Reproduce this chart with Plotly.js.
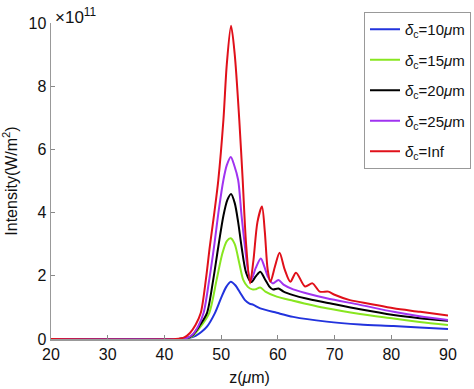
<!DOCTYPE html>
<html><head><meta charset="utf-8">
<script src="https://cdn.plot.ly/plotly-3.0.1.min.js"></script>
<style>html,body{margin:0;padding:0;background:#fff;}</style>
</head><body>
<div id="chart" style="width:474px;height:389px;"></div>
<script>
// Values in units of 1e11 W/m^2
const seriesNames = ["<i>δ</i><sub>c</sub>=10<i>μ</i>m","<i>δ</i><sub>c</sub>=15<i>μ</i>m","<i>δ</i><sub>c</sub>=20<i>μ</i>m","<i>δ</i><sub>c</sub>=25<i>μ</i>m","<i>δ</i><sub>c</sub>=Inf"];

const zBlue = [20,42,44,45.5,46.5,47.5,48.9,50,50.9,51.7,52.5,53.4,54.2,55,55.7,56.9,59.8,62.7,68.6,74.5,80.4,85,90];
const vBlue = [0,0,0.02,0.1,0.22,0.39,0.82,1.3,1.65,1.81,1.7,1.45,1.23,1.12,1.08,0.97,0.83,0.7,0.55,0.46,0.41,0.36,0.32];

const zGreen = [20,42,44,45,46.5,47.9,49.2,50.2,51,51.7,52.4,53.2,53.9,54.7,55.5,56,56.9,57.8,59.8,62.7,68.6,74.5,80.4,85,90];
const vGreen = [0,0,0.02,0.1,0.42,0.82,1.87,2.7,3.1,3.19,3.0,2.4,1.87,1.65,1.57,1.57,1.63,1.5,1.34,1.21,0.97,0.79,0.65,0.54,0.44];

const zBlack = [20,42,44,45,46.3,47.5,48.6,49.5,50.4,51.1,51.75,52.4,53,53.6,54.4,55.3,56.1,56.9,57.7,58.5,59.1,60.1,61,62.7,65,68.6,74.5,80.4,85,90];
const vBlack = [0,0,0.03,0.13,0.45,0.82,1.87,2.92,3.9,4.4,4.59,4.3,3.7,2.92,2.1,1.8,1.98,2.13,1.9,1.66,1.57,1.6,1.5,1.39,1.28,1.15,0.94,0.76,0.66,0.58];

const zPurple = [20,42,44,45,46,46.9,47.9,48.75,49.6,50.4,51,51.7,52.3,53,53.6,54.2,54.8,55.3,56.1,57,57.6,58.3,59.1,60.1,61,62.7,65,68.6,74.5,80.4,85,90];
const vPurple = [0,0,0.03,0.15,0.42,0.82,1.87,2.92,4.1,5.03,5.5,5.76,5.5,5.03,3.9,2.92,2.1,1.87,2.25,2.55,2.3,1.95,1.76,1.87,1.72,1.57,1.45,1.29,1.08,0.86,0.72,0.6];

const zRed = [20,42,43.5,44.5,45.5,46.4,47.3,48,48.8,49.5,50.4,51,51.75,52.4,53.2,53.8,54.4,55.1,55.7,56.4,57.2,57.7,58.2,58.7,59.5,60.3,61.2,62.2,63.2,64.8,66.1,67.4,68.9,70,72.7,76.3,80.4,85.1,90];
const vRed = [0,0,0.05,0.19,0.45,0.82,1.87,2.92,4.0,5.03,6.93,8.7,9.91,9.0,6.93,5.03,3.0,1.76,2.5,3.7,4.19,3.4,2.2,1.81,2.3,2.73,2.2,1.81,2.1,1.66,1.76,1.5,1.5,1.4,1.23,1.11,0.97,0.86,0.74];

const colors = ["#2233dd","#88e620","#000000","#a033f0","#e0101a"];
const zs = [zBlue,zGreen,zBlack,zPurple,zRed];
const vs = [vBlue,vGreen,vBlack,vPurple,vRed];

const traces = zs.map((z,i)=>({
  x:z, y:vs[i], type:'scatter', mode:'lines', name:seriesNames[i],
  legendgroup:'g'+i,
  line:{color:colors[i], width:2, shape:'spline', smoothing:0.8}
}));

const fam = 'Liberation Sans, Arial, sans-serif';
const axisFont = {family:fam, size:16, color:'#111'};
const layout = {
  width:474, height:389,
  margin:{l:51, r:26, t:23, b:50, autoexpand:false},
  paper_bgcolor:'#fff', plot_bgcolor:'#fff',
  font:axisFont,
  showlegend:true,
  legend:{
    x:(364-51)/397, y:(339-12)/316, xref:'paper', yref:'paper',
    xanchor:'left', yanchor:'top',
    bgcolor:'#fff', bordercolor:'#999', borderwidth:1,
    font:{family:fam, size:15, color:'#111'},
    tracegroupgap:8, itemwidth:30
  },
  xaxis:{
    range:[20,90], tickmode:'linear', tick0:20, dtick:10,
    ticks:'inside', ticklen:4, tickcolor:'#888',
    showline:true, linecolor:'#999', linewidth:1.5, mirror:false,
    showgrid:false, zeroline:false,
    tickfont:axisFont,
    title:{text:'z(<i>μ</i>m)', font:axisFont, standoff:10}
  },
  yaxis:{
    range:[0,10], tickmode:'linear', tick0:0, dtick:2,
    ticks:'inside', ticklen:4, tickcolor:'#888',
    showline:true, linecolor:'#999', linewidth:1.5, mirror:false,
    showgrid:false, zeroline:false,
    tickfont:axisFont,
    title:{text:'Intensity(W/m<sup>2</sup>)', font:{family:fam, size:16, color:'#111'}, standoff:9}
  },
  annotations:[{
    xref:'paper', yref:'paper', x:0, y:1, xanchor:'left', yanchor:'bottom',
    text:'×10<sup>11</sup>', showarrow:false,
    font:{family:fam, size:17, color:'#111'},
    xshift:2, yshift:-6
  }]
};
Plotly.newPlot('chart', traces, layout, {displayModeBar:false, staticPlot:true});
</script>
</body></html>
